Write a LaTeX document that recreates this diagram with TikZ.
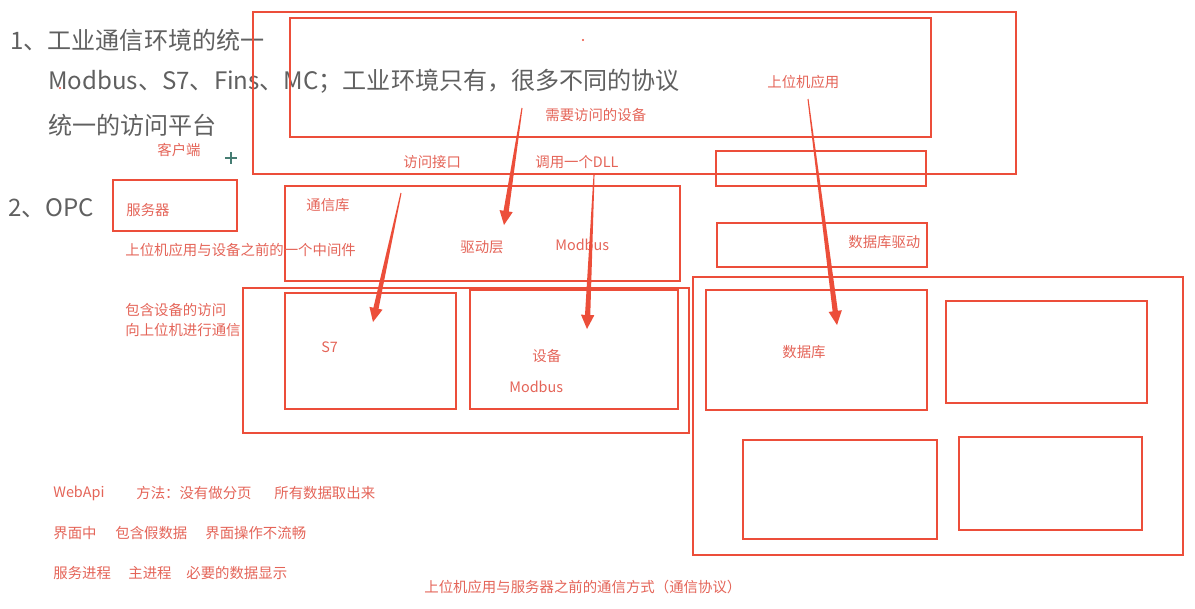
\documentclass[tikz,border=0pt]{standalone}
\usepackage{fontspec}
\setmainfont{Noto Sans CJK SC}
\usetikzlibrary{calc,positioning}

\definecolor{inkred}{RGB}{236,78,58}
\definecolor{notered}{RGB}{228,100,88}
\definecolor{slidegray}{RGB}{96,96,96}
\definecolor{cursorteal}{RGB}{70,125,115}

% pen stroke: thin at the start, thick at the head
\newcommand{\penarrow}[2]{%
  \coordinate (pb) at ($(#2)!8pt!(#1)$);
  \fill[inkred]
    ($(#1)!0.3pt!90:(#2)$) -- ($(pb)!1.5pt!90:(#2)$)
    -- ($(pb)!3.8pt!90:(#2)$) -- (#2)
    -- ($(pb)!3.8pt!-90:(#2)$) -- ($(pb)!1.5pt!-90:(#2)$)
    -- ($(#1)!0.3pt!-90:(#2)$) -- cycle;
}

\begin{document}
\begin{tikzpicture}[
    x=0.02cm, y=-0.02cm,
    box/.style={draw=inkred, line width=1.6pt},
    heading/.style={anchor=west, inner sep=0pt, text=slidegray,
      font=\fontsize{13.7}{16}\selectfont},
    note/.style={anchor=west, inner sep=0pt, text=notered,
      font=\fontsize{8.2}{10}\selectfont},
]
\useasboundingbox (0,0) rectangle (1195,608);

% ---------------------------------------------------------
% slide text
% ---------------------------------------------------------
\node[heading] (h1) at (10,40) {1、工业通信环境的统一};
\node[heading] (h2) at (48,81) {Modbus、S7、Fins、MC；工业环境只有，很多不同的协议};
\node[heading] (h3) at (48,125) {统一的访问平台};
\node[heading] (h4) at (8,208) {2、OPC};

% ---------------------------------------------------------
% client side
% ---------------------------------------------------------
\draw[box] (253,12) rectangle (1016,174);
\draw[box] (290,18) rectangle (931,137);
\draw[box] (716,151) rectangle (926,186);
\draw[box] (717,223) rectangle (927,267);

\node[note] (client) at (157,150) {客户端};
\node[note] (devneed) at (545,115) {需要访问的设备};
\node[note] (iface) at (403,162) {访问接口};
\node[note] (dll) at (535,162) {调用一个DLL};
\node[note] (hostapp) at (767,82) {上位机应用};
\node[note] (dbdrv) at (848,242) {数据库驱动};

% ---------------------------------------------------------
% server / communication library
% ---------------------------------------------------------
\draw[box] (113,180) rectangle (237,231);
\node[note] (server) at (126,210) {服务器};

\draw[box] (285,186) rectangle (680,281);
\node[note] (commlib) at (306,205) {通信库};
\node[note] (drvlayer) at (460,247) {驱动层};
\node[note] (modtop) at (555,245) {Modbus};
\node[note] (middleware) at (125,250) {上位机应用与设备之前的一个中间件};

% ---------------------------------------------------------
% devices
% ---------------------------------------------------------
\draw[box] (243,288) rectangle (689,433);
\draw[box] (285,293) rectangle (456,409);
\draw[box] (470,290) rectangle (678,409);
\node[note] (accessA) at (125,310) {包含设备的访问};
\node[note] (accessB) at (125,330) {向上位机进行通信};
\node[note] (s7) at (321,347) {S7};
\node[note] (dev) at (532,356) {设备};
\node[note] (modbot) at (509,387) {Modbus};

% ---------------------------------------------------------
% database
% ---------------------------------------------------------
\draw[box] (693,277) rectangle (1183,555);
\draw[box] (706,290) rectangle (927,410);
\draw[box] (946,301) rectangle (1147,403);
\draw[box] (743,440) rectangle (937,539);
\draw[box] (959,437) rectangle (1142,530);
\node[note] (db) at (782,352) {数据库};

% ---------------------------------------------------------
% notes at the bottom
% ---------------------------------------------------------
\node[note] (webapi) at (53,493) {WebApi};
\node[note] (method) at (136,493) {方法：没有做分页};
\node[note] (alldata) at (274,493) {所有数据取出来};
\node[note] (uimid) at (53,533) {界面中};
\node[note] (fakedata) at (115,533) {包含假数据};
\node[note] (uislow) at (205,533) {界面操作不流畅};
\node[note] (svcproc) at (53,573) {服务进程};
\node[note] (mainproc) at (128,573) {主进程};
\node[note] (needshow) at (186,573) {必要的数据显示};
\node[note] (protocol) at (424,587) {上位机应用与服务器之前的通信方式（通信协议）};

% ---------------------------------------------------------
% pen arrows
% ---------------------------------------------------------
\coordinate (devS) at (522,108);  \coordinate (devE) at (504,225);
\coordinate (ifS) at (401,193);   \coordinate (ifE) at (373,322);
\coordinate (dllS) at (594,175);  \coordinate (dllE) at (587,329);
\coordinate (appS) at (808,99);   \coordinate (appE) at (837,325);
\penarrow{devS}{devE}
\penarrow{ifS}{ifE}
\penarrow{dllS}{dllE}
\penarrow{appS}{appE}

% stray marks
\fill[inkred] (583,40) circle (1.2);
\fill[inkred] (60,88) circle (1.2);
\draw[cursorteal, line width=0.6pt]
  (225,158) -- (237,158) (231,152) -- (231,164);
\end{tikzpicture}
\end{document}
